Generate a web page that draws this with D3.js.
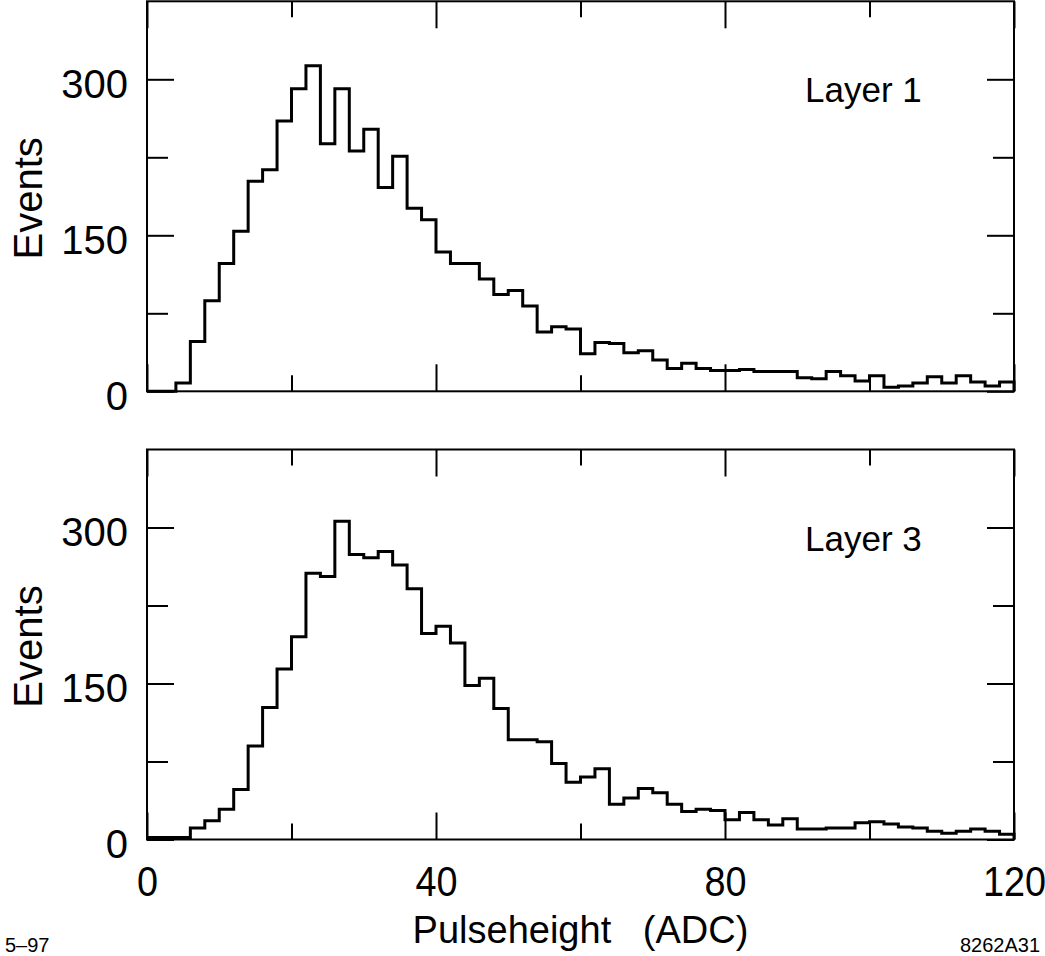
<!DOCTYPE html>
<html>
<head>
<meta charset="utf-8">
<script src="https://cdn.jsdelivr.net/npm/d3@7"></script>
<style>
  html, body { margin: 0; padding: 0; background: #fff; }
  svg { display: block; }
  text { font-family: "Liberation Sans", Arial, Helvetica, sans-serif; fill: #000; }
</style>
</head>
<body>
<svg id="chart" width="1045" height="956"></svg>
<script>
// ---- data (bin width 2 ADC, 0..120) ----
const binEdgesStart = 0;
const binWidth = 2;
const layer1Counts = [0,0,8,48,87,123,154,202,213,260,291,313,238,291,231,252,196,226,176,165,
  134,123,123,108,93,97,82,57,62,60,36,47,46,37,39,30,22,27,22,20,
  20,21,19,19,19,13,12,19,15,10,15,4,5,8,14,8,15,9,5,9];
const layer3Counts = [2,2,2,11,18,29,48,90,127,164,195,256,253,306,274,271,277,264,241,198,
  205,189,148,155,126,96,96,94,73,55,60,68,34,40,49,45,34,27,29,28,
  19,26,19,14,20,10,10,11,11,16,17,15,12,11,8,6,8,10,8,5];
const panelLabels = ["Layer 1", "Layer 3"];
const xTicksMajor = [0, 40, 80, 120];
const xTicksMinor = [20, 60, 100];
const yTicksMajor = [0, 150, 300];
const yTicksMinor = [75, 225];
const yLabel = "Events";
const xLabel = "Pulseheight   (ADC)";
const footLeft = "5\u201397";
const footRight = "8262A31";

const svg = d3.select("#chart");
const left = 147, right = 1014;
const panels = [
  { counts: layer1Counts, label: panelLabels[0], top: 1.3, bottom: 391.3, showX: false },
  { counts: layer3Counts, label: panelLabels[1], top: 449.5, bottom: 839.5, showX: true }
];

const x = d3.scaleLinear().domain([0, 120]).range([left, right]);

panels.forEach(p => {
  const y = d3.scaleLinear().domain([0, 375]).range([p.bottom, p.top]);
  const g = svg.append("g");

  // frame
  g.append("rect").attr("x", left).attr("y", p.top)
    .attr("width", right - left).attr("height", p.bottom - p.top)
    .attr("fill", "none").attr("stroke", "#000").attr("stroke-width", 2);

  function styleAxis(sel) {
    sel.selectAll("line").attr("stroke", "#000").attr("stroke-width", 2);
    sel.select(".domain").remove();
  }

  // Left axis
  const gl = g.append("g").attr("transform", `translate(${left},0)`);
  gl.call(d3.axisLeft(y).tickValues(yTicksMajor).tickSize(-27).tickSizeOuter(0).tickPadding(19).tickFormat(d3.format("d")));
  styleAxis(gl);
  gl.selectAll("text").attr("font-size", 40).attr("dy", null).attr("y", 0)
    .attr("transform", "translate(0,18)");
  const glm = g.append("g").attr("transform", `translate(${left},0)`);
  glm.call(d3.axisLeft(y).tickValues(yTicksMinor).tickSize(-21).tickSizeOuter(0).tickFormat(""));
  styleAxis(glm);

  // Right axis
  const gr = g.append("g").attr("transform", `translate(${right},0)`);
  gr.call(d3.axisRight(y).tickValues(yTicksMajor).tickSize(-27).tickSizeOuter(0).tickFormat(""));
  styleAxis(gr);
  const grm = g.append("g").attr("transform", `translate(${right},0)`);
  grm.call(d3.axisRight(y).tickValues(yTicksMinor).tickSize(-21).tickSizeOuter(0).tickFormat(""));
  styleAxis(grm);

  // Top axis
  const gt = g.append("g").attr("transform", `translate(0,${p.top})`);
  gt.call(d3.axisTop(x).tickValues(xTicksMajor).tickSize(-27).tickSizeOuter(0).tickFormat(""));
  styleAxis(gt);
  const gtm = g.append("g").attr("transform", `translate(0,${p.top})`);
  gtm.call(d3.axisTop(x).tickValues(xTicksMinor).tickSize(-16).tickSizeOuter(0).tickFormat(""));
  styleAxis(gtm);

  // Bottom axis
  const gb = g.append("g").attr("transform", `translate(0,${p.bottom})`);
  gb.call(d3.axisBottom(x).tickValues(xTicksMajor).tickSize(-27).tickSizeOuter(0).tickPadding(0)
    .tickFormat(p.showX ? d3.format("d") : ""));
  styleAxis(gb);
  gb.selectAll("text").attr("font-size", 42).attr("dy", null).attr("y", 0)
    .attr("transform", "translate(0,56) scale(0.9,1)");
  const gbm = g.append("g").attr("transform", `translate(0,${p.bottom})`);
  gbm.call(d3.axisBottom(x).tickValues(xTicksMinor).tickSize(-16).tickSizeOuter(0).tickFormat(""));
  styleAxis(gbm);

  // histogram outline
  const pts = p.counts.map((c, i) => [binEdgesStart + i * binWidth, c]);
  pts.push([binEdgesStart + p.counts.length * binWidth, p.counts[p.counts.length - 1]]);
  pts.push([binEdgesStart + p.counts.length * binWidth, 0]);
  const line = d3.line().x(d => x(d[0])).y(d => y(d[1])).curve(d3.curveStepAfter);
  g.append("path").attr("d", line(pts))
    .attr("fill", "none").attr("stroke", "#000").attr("stroke-width", 3)
    .attr("stroke-linejoin", "miter");

  // panel label
  g.append("text").attr("x", 805).attr("y", p.top + 101)
    .attr("font-size", 35).text(p.label);

  // y axis title
  g.append("text")
    .attr("transform", `translate(42,${(p.top + p.bottom) / 2 + 2}) rotate(-90)`)
    .attr("text-anchor", "middle").attr("font-size", 40).text(yLabel);
});

svg.append("text").attr("x", (left + right) / 2).attr("y", 943)
  .attr("text-anchor", "middle").attr("font-size", 38)
  .style("white-space", "pre").text(xLabel);

svg.append("text").attr("x", 5).attr("y", 952).attr("font-size", 20).text(footLeft);
svg.append("text").attr("x", 1040).attr("y", 952).attr("text-anchor", "end")
  .attr("font-size", 20).text(footRight);
</script>
</body>
</html>
